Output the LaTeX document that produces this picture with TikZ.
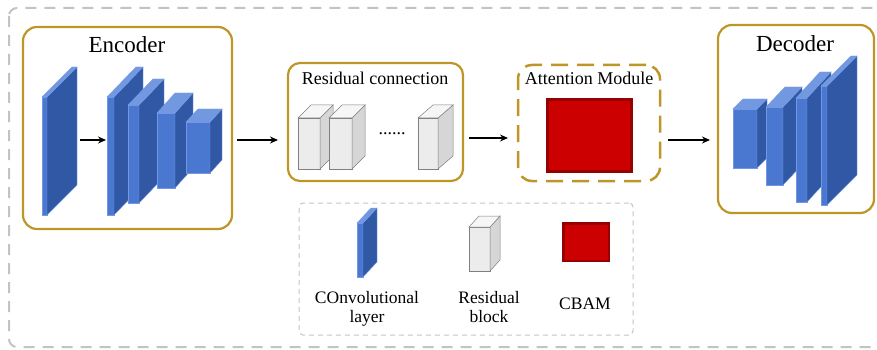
\documentclass[tikz,border=0pt]{standalone}
\usepackage{fontspec}
\setmainfont{Liberation Serif}
\usetikzlibrary{arrows.meta}
\definecolor{gold}{RGB}{190,150,40}
\definecolor{dashgray}{RGB}{195,195,195}
\definecolor{bfront}{RGB}{74,120,208}
\definecolor{bside}{RGB}{48,88,165}
\definecolor{btop}{RGB}{115,152,226}
\definecolor{gfront}{RGB}{236,236,236}
\definecolor{gside}{RGB}{214,214,214}
\definecolor{gtop}{RGB}{246,246,246}
\definecolor{redin}{RGB}{204,0,0}
\definecolor{redout}{RGB}{150,0,0}
\newcommand\mycube[9]{%
  \filldraw[fill=#7,draw=#9,line width=0.4pt] (#1,#2) rectangle (#1+#3,#2+#4);
  \filldraw[fill=#8,draw=#9,line width=0.4pt] (#1+#3,#2) -- (#1+#3+#5,#2+#6) -- (#1+#3+#5,#2+#4+#6) -- (#1+#3,#2+#4) -- cycle;
  \filldraw[fill=#9,draw=#9,line width=0.4pt] (#1,#2) -- (#1+#5,#2+#6) -- (#1+#3+#5,#2+#6) -- (#1+#3,#2) -- cycle;
}
\newcommand\graycube[6]{%
  \filldraw[fill=gfront,draw=gray,line width=0.5pt] (#1,#2) rectangle (#1+#3,#2+#4);
  \filldraw[fill=gside,draw=gray,line width=0.5pt] (#1+#3,#2) -- (#1+#3+#5,#2+#6) -- (#1+#3+#5,#2+#4+#6) -- (#1+#3,#2+#4) -- cycle;
  \filldraw[fill=gtop,draw=gray,line width=0.5pt] (#1,#2) -- (#1+#5,#2+#6) -- (#1+#3+#5,#2+#6) -- (#1+#3,#2) -- cycle;
}
\begin{document}
\begin{tikzpicture}[x=1pt,y=-1pt,
  gbox/.style={draw=gold,line width=2.2pt,rounded corners=14pt,inner sep=0pt},
  arr/.style={-{Stealth[length=8pt,width=7pt]},line width=1.6pt,black},
  title/.style={font=\fontsize{23}{27}\selectfont,anchor=base,inner sep=0pt},
  subtitle/.style={font=\fontsize{18}{22}\selectfont,anchor=base,inner sep=0pt},
  legtext/.style={font=\fontsize{17.5}{20}\selectfont,anchor=base,inner sep=0pt}]
\useasboundingbox (0,0) rectangle (877,350);
% outer dashed frame
\draw[dashgray,line width=2pt,dash pattern=on 11pt off 8pt,rounded corners=8pt] (9,8) rectangle (890,347);
% group boxes
\node[gbox,minimum width=209pt,minimum height=202pt] (enc) at (127.5,128) {};
\node[gbox,rounded corners=12pt,minimum width=175pt,minimum height=118pt] (res) at (375.5,122) {};
\node[gbox,line width=2.5pt,dash pattern=on 17pt off 9pt,minimum width=142pt,minimum height=116pt] (att) at (589,123) {};
\node[gbox,minimum width=156pt,minimum height=188pt] (dec) at (796,119) {};
% legend box
\node[draw=dashgray,line width=1pt,dash pattern=on 5pt off 4pt,rounded corners=4pt,minimum width=334pt,minimum height=132pt,inner sep=0pt] (leg) at (466,269) {};
% titles
\node[title] (enct) at (127,53) {Encoder};
\node[title] (dect) at (795,52) {Decoder};
\node[subtitle] (rest) at (375,85) {Residual connection};
\node[subtitle] (attt) at (589,85) {Attention Module};
% encoder layers
\mycube{42}{97}{5}{118}{30}{-30}{bfront}{bside}{btop}
\mycube{107}{97}{7}{118}{29}{-30}{bfront}{bside}{btop}
\mycube{128}{105}{11}{98}{25}{-26}{bfront}{bside}{btop}
\mycube{157}{113}{18}{75}{18}{-20}{bfront}{bside}{btop}
\mycube{186}{122}{24}{51}{12}{-13}{bfront}{bside}{btop}
% decoder layers
\mycube{733}{109}{24}{59}{10}{-10}{bfront}{bside}{btop}
\mycube{766}{107}{17}{78}{19}{-20}{bfront}{bside}{btop}
\mycube{796}{98}{11}{104}{24}{-26}{bfront}{bside}{btop}
\mycube{821}{86}{6}{119}{30}{-30}{bfront}{bside}{btop}
% residual blocks
\graycube{298}{118}{22}{51}{13}{-13}
\graycube{329}{118}{23}{51}{13}{-13}
\graycube{418}{118}{20}{51}{15}{-13}
\node[subtitle] (dots) at (392,134) {......};
% attention module
\fill[redout] (546,98) rectangle (633,173);
\fill[redin] (549,101) rectangle (630,170);
% arrows
\coordinate (a1s) at (80,140); \coordinate (a1e) at (106,140);
\coordinate (a2s) at (237,140); \coordinate (a2e) at (278,140);
\coordinate (a3s) at (469,138); \coordinate (a3e) at (508,138);
\coordinate (a4s) at (668,140); \coordinate (a4e) at (710,140);
\draw[arr] (a1s) -- (a1e);
\draw[arr] (a2s) -- (a2e);
\draw[arr] (a3s) -- (a3e);
\draw[arr] (a4s) -- (a4e);
% legend
\mycube{357}{223}{6}{54}{14}{-15}{bfront}{bside}{btop}
\graycube{469}{227}{21}{44}{10}{-11}
\fill[redout] (562,222) rectangle (610,262);
\fill[redin] (564.5,224.5) rectangle (607.5,259.5);
\node[legtext] (l1a) at (367,303) {COnvolutional};
\node[legtext] (l1b) at (367,322) {layer};
\node[legtext] (l2a) at (489,303) {Residual};
\node[legtext] (l2b) at (489,322) {block};
\node[legtext] (l3) at (585,309) {CBAM};
\end{tikzpicture}
\end{document}
